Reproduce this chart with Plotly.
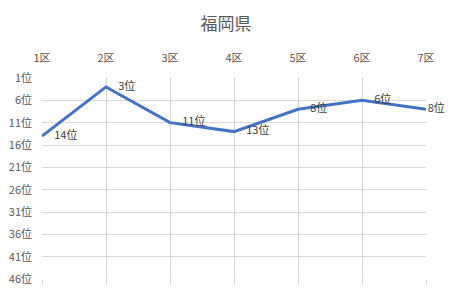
import plotly.graph_objects as go

districts = ["1区", "2区", "3区", "4区", "5区", "6区", "7区"]
ranks = [14, 3, 11, 13, 8, 6, 8]
ytick_vals = [1, 6, 11, 16, 21, 26, 31, 36, 41, 46]
ytick_text = [f"{v}位" for v in ytick_vals]
labels = [f"{r}位" for r in ranks]

font = "Noto Sans CJK JP"
grid = "#D9D9D9"
txt = "#595959"

fig = go.Figure()
fig.add_trace(go.Scatter(
    x=districts, y=ranks, mode="lines+markers+text",
    line=dict(color="#4472C4", width=3),
    marker=dict(size=[18, 18, 18, 18, 18, 18, 1], opacity=0, color="#4472C4"),
    text=labels, textposition="middle right",
    textfont=dict(family=font, size=11, color="#404040"),
    cliponaxis=False, showlegend=False, hoverinfo="skip"))
fig.add_trace(go.Scatter(
    x=districts, y=[None]*len(districts), xaxis="x2", mode="lines",
    showlegend=False, hoverinfo="skip"))

fig.update_layout(
    width=452, height=301,
    margin=dict(l=42, r=26, t=78, b=22, autoexpand=False),
    paper_bgcolor="white", plot_bgcolor="white",
    title=dict(text="福岡県", x=0.5, xanchor="center", y=0.92, yanchor="middle",
               font=dict(family=font, size=17, color=txt)),
    xaxis=dict(side="top", type="category", range=[0, 6], automargin=False,
               showgrid=True, gridcolor=grid, gridwidth=1,
               ticks="", tickfont=dict(family=font, size=11, color=txt),
               showline=False, zeroline=False, ticklabelstandoff=13),
    xaxis2=dict(overlaying="x", side="bottom", type="category", range=[0, 6],
                automargin=False,
                showgrid=False, showticklabels=False, ticks="outside",
                ticklen=5, tickcolor=grid, tickwidth=1, showline=False,
                categoryorder="array", categoryarray=districts),
    yaxis=dict(range=[46, 1], tickvals=ytick_vals, ticktext=ytick_text,
               automargin=False,
               showgrid=True, gridcolor=grid, gridwidth=1,
               tickfont=dict(family=font, size=11, color=txt),
               zeroline=False, showline=False, ticks="", ticklabelstandoff=9),
)
fig.write_html("out.html")
